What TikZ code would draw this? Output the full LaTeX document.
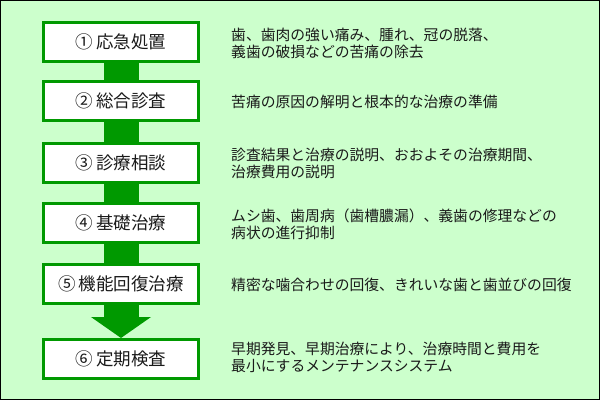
\documentclass[tikz,border=0pt]{standalone}
\usepackage{fontspec}
\setmainfont{Noto Sans CJK JP}
\usetikzlibrary{arrows.meta}
\definecolor{flowgreen}{HTML}{009900}
\definecolor{flowmint}{HTML}{CCFFCC}
\definecolor{flowink}{HTML}{1A1A1A}
\tikzset{
  stepbox/.style={draw=flowgreen,line width=3pt,fill=white,inner sep=0pt,
    minimum width=155pt,minimum height=39pt,text=flowink,
    font=\fontsize{17.5}{20}\selectfont},
  stepnote/.style={anchor=west,align=left,inner sep=0pt,text=flowink,
    font=\fontsize{14.8}{16.5}\selectfont},
  stepbar/.style={flowgreen,line width=35pt}
}
\begin{document}
\begin{tikzpicture}[x=1pt,y=-1pt]

  % ---- Background and frame ----------------------------------
  \fill[flowmint] (0,0) rectangle (600,400);
  \draw[black,line width=1pt] (0.5,0.5) rectangle (599.5,399.5);
  \useasboundingbox (0,0) rectangle (600,400);

  % ---- Steps -------------------------------------------------
  \node[stepbox] (s1) at (121, 42)  {①\,応急処置};
  \node[stepbox] (s2) at (121,101)  {②\,総合診査};
  \node[stepbox] (s3) at (121,163)  {③\,診療相談};
  \node[stepbox] (s4) at (121,223)  {④\,基礎治療};
  \node[stepbox] (s5) at (121,283.5){⑤\,機能回復治療};
  \node[stepbox] (s6) at (121,359)  {⑥\,定期検査};

  % ---- Connecting bars ---------------------------------------
  \draw[stepbar] (s1.south) -- (s2.north);
  \draw[stepbar] (s2.south) -- (s3.north);
  \draw[stepbar] (s3.south) -- (s4.north);
  \draw[stepbar] (s4.south) -- (s5.north);
  % last step: big arrow into the check-up box
  \draw[stepbar,-{Triangle[width=59pt,length=21pt]}] (s5.south) -- (s6.north);

  % ---- Notes on the right ------------------------------------
  \node[stepnote] (d1) at (231, 43.5)
    {歯、歯肉の強い痛み、腫れ、冠の脱落、\\義歯の破損などの苦痛の除去};
  \node[stepnote] (d2) at (231,101.5)
    {苦痛の原因の解明と根本的な治療の準備};
  \node[stepnote] (d3) at (231,163.5)
    {診査結果と治療の説明、おおよその治療期間、\\治療費用の説明};
  \node[stepnote] (d4) at (231,224.5)
    {ムシ歯、歯周病（歯槽膿漏）、義歯の修理などの\\病状の進行抑制};
  \node[stepnote] (d5) at (231,285)
    {精密な噛合わせの回復、きれいな歯と歯並びの回復};
  \node[stepnote] (d6) at (231,357.5)
    {早期発見、早期治療により、治療時間と費用を\\最小にするメンテナンスシステム};

\end{tikzpicture}
\end{document}
